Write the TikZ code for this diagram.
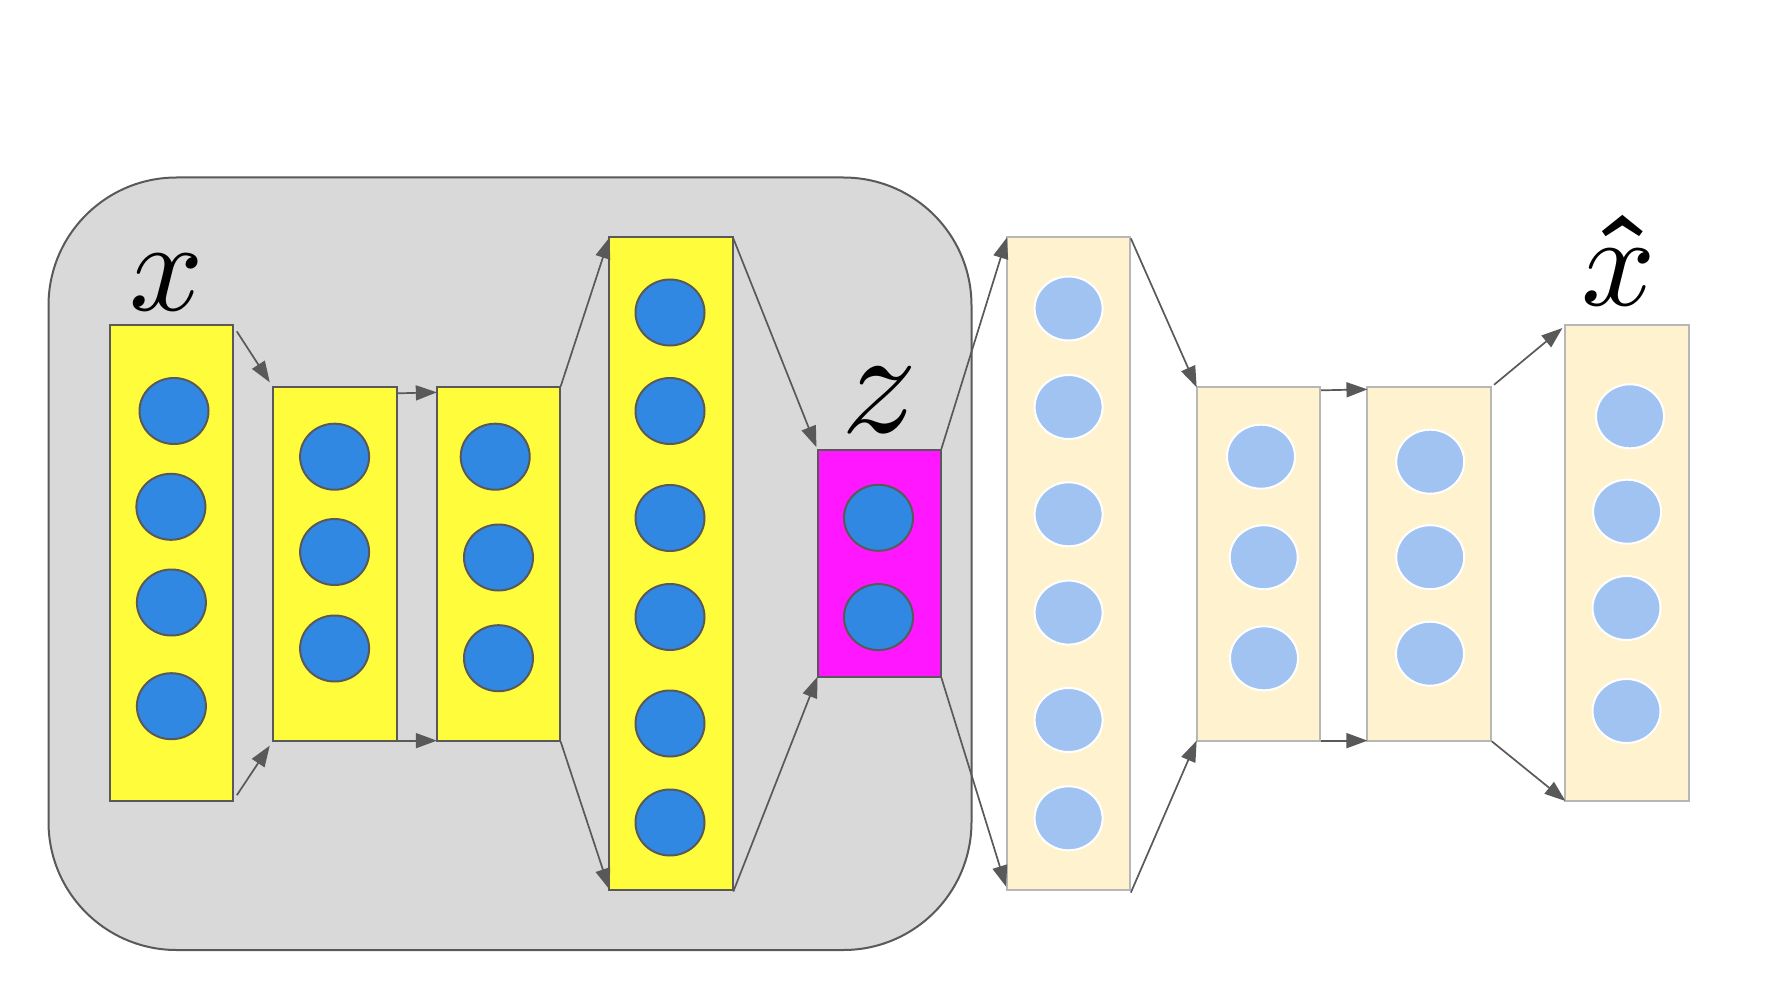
\documentclass[tikz,border=0pt]{standalone}
\usepackage{graphicx}
\usetikzlibrary{shapes.geometric,arrows.meta}
\DeclareSymbolFont{hatbold}{OT1}{cmr}{bx}{n}
\DeclareMathAccent{\bhat}{\mathalpha}{hatbold}{"5E}
\definecolor{encgray}{HTML}{D9D9D9}
\definecolor{edge}{HTML}{595959}
\definecolor{encyellow}{HTML}{FFFC3C}
\definecolor{zmagenta}{HTML}{FF17FF}
\definecolor{encblue}{HTML}{3088E2}
\definecolor{deccream}{HTML}{FFF2CF}
\definecolor{decedge}{HTML}{B7B7B7}
\definecolor{decblue}{HTML}{A0C3F2}
\definecolor{arrowgray}{HTML}{595959}
\tikzset{
  encbox/.style={draw=edge, line width=2pt, fill=encyellow, minimum width=123.5pt, inner sep=0pt, outer sep=0pt},
  zbox/.style={encbox, fill=zmagenta},
  decbox/.style={draw=decedge, line width=2pt, fill=deccream, minimum width=123.5pt, inner sep=0pt, outer sep=0pt},
  encnode/.style={ellipse, draw=edge, line width=2pt, fill=encblue, minimum width=69pt, minimum height=66pt, inner sep=0pt},
  decnode/.style={ellipse, draw=white, line width=2pt, fill=decblue, minimum width=68pt, minimum height=64pt, inner sep=0pt},
  arr/.style={draw=arrowgray, line width=1.7pt, -{Triangle[length=21pt,width=15pt]}, shorten <=1pt, shorten >=0pt},
  lbl/.style={inner sep=0pt, anchor=base, font=\normalsize},
}
\begin{document}
\begin{tikzpicture}[x=1pt,y=-1pt]
\useasboundingbox (0,0) rectangle (1792,992);
% encoder background
\node[draw=edge, line width=2pt, fill=encgray, rounded corners=128pt, minimum width=923pt, minimum height=772.5pt, inner sep=0pt] (enc) at (510,563.75) {};
% layers
\node[encbox, minimum height=475.5pt] (e1) at (171.25,563.25) {};
\node[encbox, minimum height=353.3pt] (e2) at (334.8,564) {};
\node[encbox, minimum height=353.3pt] (e3) at (498.6,564) {};
\node[encbox, minimum height=652pt] (e4) at (671.2,563.5) {};
\node[zbox, minimum height=226.7pt] (z) at (879.3,563.3) {};
\node[decbox, minimum height=652pt] (d1) at (1068.7,563.5) {};
\node[decbox, minimum height=353.3pt] (d2) at (1258.4,564) {};
\node[decbox, minimum height=353.3pt] (d3) at (1429.2,564) {};
\node[decbox, minimum height=475.5pt] (d4) at (1627.2,563.25) {};
% encoder units
\node[encnode] (e1a) at (174,411) {};
\node[encnode] (e1b) at (170.9,506.8) {};
\node[encnode] (e1c) at (171.4,602.5) {};
\node[encnode] (e1d) at (171.4,706.2) {};
\node[encnode] (e2a) at (334.6,456.7) {};
\node[encnode] (e2b) at (334.6,552) {};
\node[encnode] (e2c) at (334.6,648.5) {};
\node[encnode] (e3a) at (495.2,456.7) {};
\node[encnode] (e3b) at (498.5,557.5) {};
\node[encnode] (e3c) at (498.5,658.2) {};
\node[encnode] (e4a) at (670,312.5) {};
\node[encnode] (e4b) at (670,411) {};
\node[encnode] (e4c) at (670,518) {};
\node[encnode] (e4d) at (670,617) {};
\node[encnode] (e4e) at (670,723.5) {};
\node[encnode] (e4f) at (670,822.5) {};
\node[encnode] (za) at (878.5,517.8) {};
\node[encnode] (zb) at (878.5,617.1) {};
% decoder units
\node[decnode] (d1a) at (1068.6,308.5) {};
\node[decnode] (d1b) at (1068.6,407) {};
\node[decnode] (d1c) at (1068.6,514.3) {};
\node[decnode] (d1d) at (1068.6,612.6) {};
\node[decnode] (d1e) at (1068.6,720) {};
\node[decnode] (d1f) at (1068.6,818.3) {};
\node[decnode] (d2a) at (1261,456.7) {};
\node[decnode] (d2b) at (1263.7,557.2) {};
\node[decnode] (d2c) at (1264,658.3) {};
\node[decnode] (d3a) at (1430.2,461.7) {};
\node[decnode] (d3b) at (1430.2,557.2) {};
\node[decnode] (d3c) at (1430,653.7) {};
\node[decnode] (d4a) at (1630,416.3) {};
\node[decnode] (d4b) at (1627.1,511.7) {};
\node[decnode] (d4c) at (1626.5,608) {};
\node[decnode] (d4d) at (1626.5,711) {};
% labels
\node[lbl] (lx) at (166.5,311) {\scalebox{13}{$x$}};
\node[lbl] (lz) at (880,432) {\scalebox{15}{$z$}};
\node[lbl] (lxh) at (1619,306) {\scalebox{13}{$\bhat{x}$}};
% connectors
\draw[arr, shorten <=7pt, shorten >=6pt] (e1.north east) -- (e2.north west);
\draw[arr, shorten <=7pt, shorten >=6pt] (e1.south east) -- (e2.south west);
\draw[arr] ([yshift=-6pt]e2.north east) -- ([yshift=-5pt]e3.north west);
\draw[arr] (e2.south east) -- (e3.south west);
\draw[arr] (e3.north east) -- (e4.north west);
\draw[arr] (e3.south east) -- (e4.south west);
\draw[arr, shorten >=3pt] (e4.north east) -- (z.north west);
\draw[arr] ([yshift=-3pt]e4.south east) -- (z.south west);
\draw[arr] (z.north east) -- (d1.north west);
\draw[arr, shorten >=3pt] (z.south east) -- (d1.south west);
\draw[arr] (d1.north east) -- (d2.north west);
\draw[arr] ([yshift=-4pt]d1.south east) -- (d2.south west);
\draw[arr] ([yshift=-3pt]d2.north east) -- ([yshift=-2pt]d3.north west);
\draw[arr] (d2.south east) -- (d3.south west);
\draw[arr, shorten <=4pt, shorten >=4pt] (d3.north east) -- (d4.north west);
\draw[arr] (d3.south east) -- (d4.south west);
\end{tikzpicture}
\end{document}
